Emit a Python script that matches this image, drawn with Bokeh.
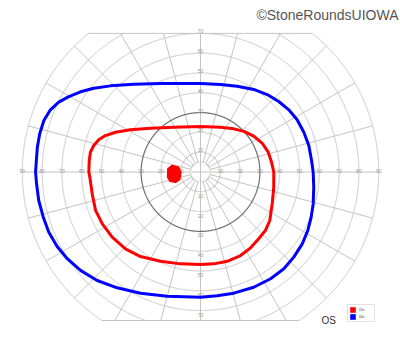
import numpy as np
from bokeh.plotting import figure
from bokeh.models import Label, Legend, LegendItem, ColumnDataSource
from bokeh.embed import file_html
from bokeh.resources import INLINE
from bokeh.core.properties import value

# ---- chart data (degrees of visual field) ----
ring_radii = [5, 10, 20, 30, 40, 50, 60, 70, 80, 90]
dark_ring = 30
meridian_angles = list(range(0, 360, 15))
top_limit = 70
bottom_limit = -75
outer_limit = 90
h_labels = [10, 20, 30, 40, 50, 60, 70, 80, 90]
v_labels = [10, 20, 30, 40, 50, 60, 70]

# I4e isopter (blue)
i4e_x = [0, 10.1, 18.5, 26.9, 33.7, 39.5, 44.6, 48.8, 52.2, 54.7, 56.1, 56.9, 57.2, 56.9, 55.9, 54.2,
         51.4, 47.1, 42.1, 35.4, 26.9, 16.8, 8.4, 0, -16.8, -30.3, -42.1, -52.2, -60.6, -67.3, -72.4,
         -76.6, -79.4, -81.7, -82.8, -83.3, -82.9, -82.4, -81.2, -79.1, -75.8, -71.6, -66.5, -60.6,
         -53.9, -45.5, -33.7, -20.2, 0]
i4e_y = [44.7, 44.2, 43.3, 41.7, 39.1, 35.6, 31.4, 26.4, 20.1, 13.4, 5.8, 0, -7.7, -16.1, -22.8, -29.5,
         -36.3, -43.0, -48.9, -53.9, -58.2, -61.2, -62.5, -63.2, -62.7, -61.2, -58.5, -54.8, -49.7, -43.8,
         -37.6, -30.4, -22.8, -14.4, -6.0, 0, 5.8, 12.5, 19.3, 26.0, 31.4, 35.3, 38.1, 40.5, 42.3, 43.5,
         44.3, 44.7, 44.7]

# I2e isopter (red)
i2e_x = [0, 10.1, 16.8, 21.9, 26.9, 31.2, 34.2, 35.9, 37.0, 37.0, 36.2, 35.0, 32.8, 29.4, 25.3, 20.2,
         13.5, 6.7, 0, -10.1, -20.2, -30.3, -37.9, -44.6, -49.6, -53.0, -54.7, -55.9, -56.4, -56.2,
         -55.6, -53.9, -51.4, -48.0, -42.9, -35.4, -25.3, -13.5, 0]
i2e_y = [23.0, 22.6, 21.8, 20.5, 18.1, 14.5, 10.0, 4.9, 0, -7.7, -16.1, -24.5, -29.5, -33.7, -38.3,
         -42.2, -45.1, -46.4, -46.7, -46.4, -45.1, -42.7, -38.8, -32.9, -26.2, -19.4, -11.0, -2.6, 0,
         5.8, 10.0, 13.4, 16.3, 18.4, 20.1, 21.3, 22.1, 22.6, 23.0]

# blind spot (I2e scotoma)
blind_x = [-16.5, -14.3, -11.0, -9.9, -10.5, -12.6, -15.4, -16.6]
blind_y = [1.6, 3.3, 2.4, -0.1, -3.9, -5.2, -4.7, -2.6]

series_names = ["I2e", "I4e"]
series_colors = ["#ff0000", "#0000ff"]

# ---- layout ----
W, H = 400, 352
SCALE = 1.98
CX, CY = 200, 171.5

p = figure(width=W, height=H,
           x_range=(-CX / SCALE, (W - CX) / SCALE),
           y_range=(-(H - CY) / SCALE, CY / SCALE),
           output_backend="svg", toolbar_location=None,
           x_axis_location=None, y_axis_location=None,
           min_border=0)
p.grid.visible = False
p.outline_line_color = None
p.background_fill_color = "white"
p.border_fill_color = "white"

GRID = "#c4c4c4"

# rings, clipped at the top and bottom limits
t = np.linspace(0, 2 * np.pi, 2881)
ring_xs, ring_ys = [], []
for r in ring_radii:
    xs = r * np.cos(t)
    ys = r * np.sin(t)
    bad = (ys > top_limit) | (ys < bottom_limit)
    ring_xs.append(np.where(bad, np.nan, xs))
    ring_ys.append(np.where(bad, np.nan, ys))
light = [i for i, r in enumerate(ring_radii) if r != dark_ring]
dark = [i for i, r in enumerate(ring_radii) if r == dark_ring]

# meridians
mer_xs, mer_ys = [], []
for a in meridian_angles:
    ar = np.deg2rad(a)
    s, c = np.sin(ar), np.cos(ar)
    r_end = outer_limit
    if s > 1e-9:
        r_end = min(r_end, top_limit / s)
    elif s < -1e-9:
        r_end = min(r_end, bottom_limit / s)
    r0 = 0 if a % 90 == 0 else ring_radii[0]
    mer_xs.append([r0 * c, r_end * c])
    mer_ys.append([r0 * s, r_end * s])

# flat top/bottom boundary lines
tw = np.sqrt(outer_limit ** 2 - top_limit ** 2)
bw = np.sqrt(outer_limit ** 2 - bottom_limit ** 2)
mer_xs += [[-tw, tw], [-bw, bw]]
mer_ys += [[top_limit, top_limit], [bottom_limit, bottom_limit]]

p.multi_line(mer_xs, mer_ys, line_color=GRID, line_width=1)
p.multi_line([ring_xs[i] for i in light], [ring_ys[i] for i in light], line_color=GRID, line_width=1)
p.multi_line([ring_xs[i] for i in dark], [ring_ys[i] for i in dark], line_color="#6e6e6e", line_width=1.2)

# ring labels
lab_src_h = ColumnDataSource(dict(
    x=[r for r in h_labels] + [-r for r in h_labels],
    y=[0.4] * (2 * len(h_labels)),
    t=[str(r) for r in h_labels] * 2))
p.text(x="x", y="y", text="t", source=lab_src_h, text_font_size="5px", text_color="#999999",
       text_align="center", text_baseline="middle", text_font=value("Liberation Sans"))
lab_src_v = ColumnDataSource(dict(
    x=[0] * (2 * len(v_labels)),
    y=[r + 1.0 for r in v_labels] + [-r - 2.0 for r in v_labels],
    t=[str(r) for r in v_labels] * 2))
p.text(x="x", y="y", text="t", source=lab_src_v, text_font_size="5px", text_color="#999999",
       text_align="center", text_baseline="middle", text_font=value("Liberation Sans"))

# isopters
p.line(i4e_x, i4e_y, line_color=series_colors[1], line_width=3, line_join="round")
p.line(i2e_x, i2e_y, line_color=series_colors[0], line_width=3, line_join="round")
p.patch(blind_x, blind_y, fill_color=series_colors[0], line_color=series_colors[0],
        line_width=1.5, line_join="round")

# legend (swatch renderers hold no drawable geometry)
leg_r = [p.quad(left=[np.nan], right=[np.nan], top=[np.nan], bottom=[np.nan],
                fill_color=c, line_color=None)
         for c in series_colors]
legend = Legend(items=[LegendItem(label=n, renderers=[r], index=0) for n, r in zip(series_names, leg_r)],
                location=(347, 30), orientation="vertical",
                glyph_width=7, glyph_height=7, label_height=7, label_width=14,
                label_text_font_size="4px", label_text_font="Liberation Sans",
                label_text_color="#444444", label_standoff=3,
                padding=1, spacing=0, margin=0,
                border_line_color="#c8c8c8", border_line_width=1,
                background_fill_color="white", background_fill_alpha=1)
p.add_layout(legend)

p.add_layout(Label(x=321, y=H - 320, x_units="screen", y_units="screen", text="OS",
                   text_font="Liberation Sans", text_font_size="10px", text_color="#333333",
                   text_baseline="alphabetic"))
p.add_layout(Label(x=398, y=H - 14, x_units="screen", y_units="screen", text="©StoneRoundsUIOWA",
                   text_font="Liberation Sans", text_font_size="14px", text_color="#555555",
                   text_align="right", text_baseline="alphabetic"))

open("out.html", "w").write(file_html(p, INLINE))
